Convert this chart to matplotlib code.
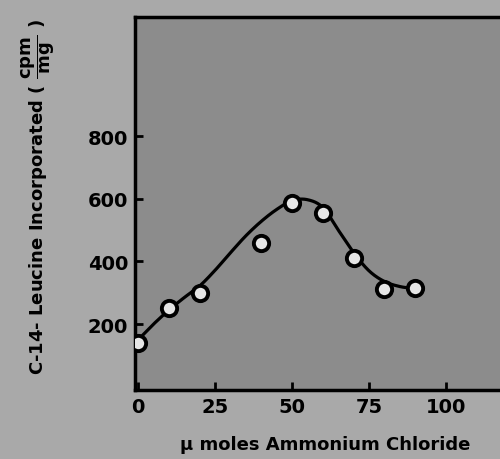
import matplotlib.pyplot as plt
import numpy as np

# measured points (umoles NH4Cl, cpm/mg)
conc = [0, 10, 20, 40, 50, 60, 70, 80, 90]
cpm = [140, 253, 300, 460, 585, 556, 410, 312, 316]

curve_x = [1, 5, 10, 15, 20, 25, 30, 35, 40, 45, 50, 55, 60, 65, 70, 75, 80, 85, 90]
curve_y = [160, 200, 245, 285, 322, 372, 428, 482, 528, 566, 594, 597, 572, 500, 428, 370, 336, 320, 313]

xticks = [0, 25, 50, 75, 100]
yticks = [200, 400, 600, 800]


def smooth(xs, ys, n=20):
    # catmull-rom through the curve knots
    xs = np.asarray(xs, float)
    ys = np.asarray(ys, float)
    px = np.r_[2 * xs[0] - xs[1], xs, 2 * xs[-1] - xs[-2]]
    py = np.r_[2 * ys[0] - ys[1], ys, 2 * ys[-1] - ys[-2]]
    out_x, out_y = [], []
    t = np.linspace(0, 1, n, endpoint=False)
    for i in range(1, len(px) - 2):
        for p, out in ((px, out_x), (py, out_y)):
            p0, p1, p2, p3 = p[i - 1], p[i], p[i + 1], p[i + 2]
            out.extend(0.5 * (2 * p1 + (-p0 + p2) * t
                              + (2 * p0 - 5 * p1 + 4 * p2 - p3) * t ** 2
                              + (-p0 + 3 * p1 - 3 * p2 + p3) * t ** 3))
    out_x.append(xs[-1])
    out_y.append(ys[-1])
    return out_x, out_y


fig = plt.figure(figsize=(5, 4.6), dpi=100, facecolor='#a9a9a9')
ax = fig.add_axes([0.27, 0.15, 0.73, 0.811], facecolor='#8c8c8c')

sx, sy = smooth(curve_x, curve_y)
ax.plot(sx, sy, color='black', lw=2.3, zorder=2)
ax.plot(conc, cpm, 'o', ms=11, mfc='#e6e6e6', mec='black', mew=2.8, zorder=3)

ax.set_xlim(-1, 117.5)
ax.set_ylim(-10, 1180)
ax.set_xticks(xticks)
ax.set_yticks(yticks)

for s in ['left', 'bottom', 'top']:
    ax.spines[s].set_linewidth(2.5)
ax.spines['right'].set_visible(False)

ax.tick_params(direction='in', length=6, width=2, labelsize=14, pad=5)
for lab in ax.get_xticklabels() + ax.get_yticklabels():
    lab.set_fontweight('bold')

ax.set_xlabel('\u03bc moles Ammonium Chloride', fontsize=13, fontweight='bold',
              labelpad=14, x=0.52)
ax.set_ylabel(r'C-14- Leucine Incorporated ( $\mathbf{\dfrac{cpm}{mg}}$ )',
              fontsize=13, fontweight='bold', labelpad=22, y=0.52)

fig.savefig('out.png', dpi=100, facecolor=fig.get_facecolor())
